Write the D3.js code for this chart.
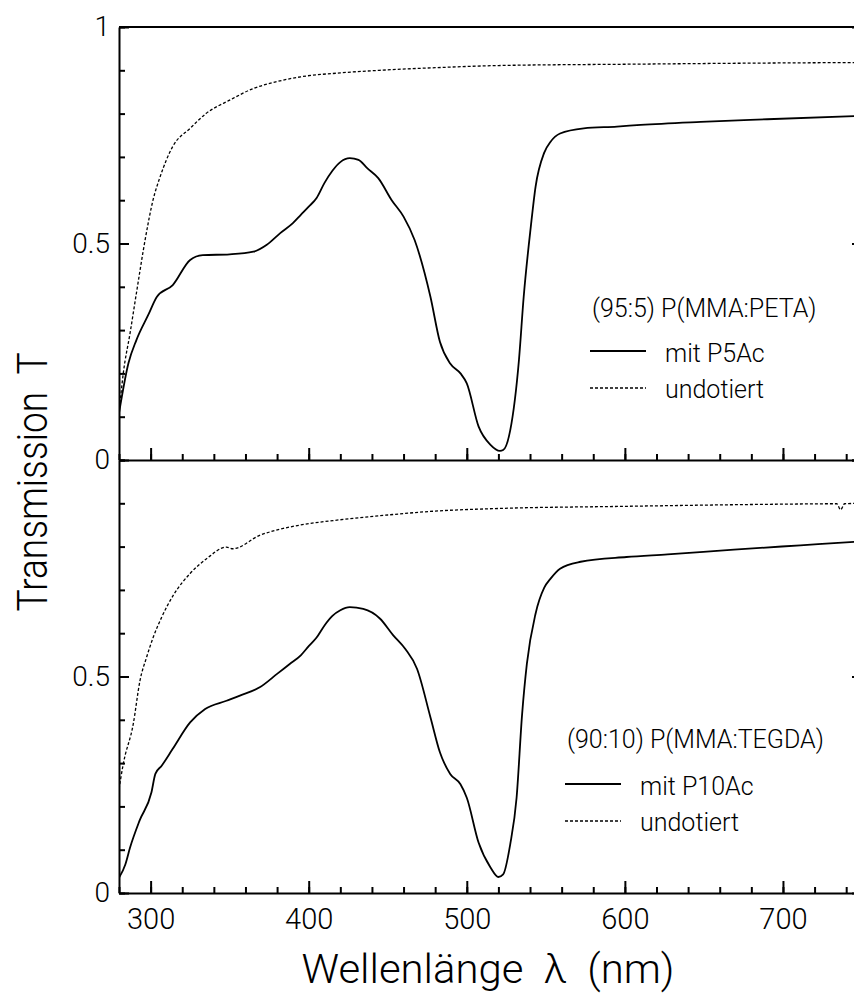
<!DOCTYPE html>
<html>
<head>
<meta charset="utf-8">
<script src="https://cdn.jsdelivr.net/npm/d3@7"></script>
<style>
  body { margin: 0; background: #fff; }
  svg { display: block; font-family: Roboto, "Liberation Sans", sans-serif; font-weight: 300; }
  .axis path, .axis line { stroke: #000; stroke-width: 2; }
  .axis text { fill: #000; font-size: 28px; font-family: Roboto, "Liberation Sans", sans-serif; font-weight: 300; }
</style>
</head>
<body>
<div id="chart"></div>
<script>
// wavelengths (nm) and transmission values
const topSolidNm = [280, 286, 291, 298.5, 304, 314, 325, 333, 350, 365, 373.5, 382, 390, 395, 400, 405, 410, 415, 420, 426, 431.5, 437, 444, 452.5, 460, 467, 477, 483, 489.5, 496, 500, 507.5, 515, 521, 523, 527.5, 533, 536, 540.5, 543.5, 549, 553, 559, 574, 595, 610, 648, 690, 750];
const topSolidT = [0.108, 0.224, 0.277, 0.335, 0.377, 0.404, 0.462, 0.473, 0.475, 0.481, 0.497, 0.524, 0.547, 0.566, 0.585, 0.605, 0.640, 0.668, 0.688, 0.697, 0.693, 0.674, 0.651, 0.600, 0.562, 0.508, 0.377, 0.273, 0.223, 0.200, 0.177, 0.077, 0.035, 0.021, 0.023, 0.069, 0.231, 0.377, 0.539, 0.631, 0.710, 0.735, 0.754, 0.766, 0.770, 0.774, 0.781, 0.787, 0.795];

const topDashNm = [280, 282.7, 287, 291, 296.5, 301.5, 306, 314, 325, 335, 350, 365, 380, 395, 420, 450, 480, 520, 600, 700, 750];
const topDashT = [0.108, 0.200, 0.293, 0.385, 0.508, 0.600, 0.654, 0.724, 0.766, 0.800, 0.831, 0.858, 0.874, 0.885, 0.894, 0.901, 0.906, 0.911, 0.914, 0.917, 0.918];

const botSolidNm = [280, 284, 287, 293, 300.5, 303, 307, 314, 325, 334.5, 348, 356.5, 369, 380, 388, 395, 400, 405, 410, 415, 420, 426, 434.5, 445, 453.5, 461, 468.5, 477, 483, 489.5, 496, 500, 507.5, 515, 520, 523, 527.5, 531.5, 535, 538, 543.5, 549, 553, 559, 572, 601, 627, 669, 711, 745, 750];
const botSolidT = [0.035, 0.066, 0.105, 0.167, 0.232, 0.275, 0.294, 0.333, 0.394, 0.425, 0.444, 0.456, 0.475, 0.506, 0.529, 0.549, 0.570, 0.590, 0.618, 0.640, 0.653, 0.660, 0.656, 0.634, 0.595, 0.564, 0.518, 0.406, 0.325, 0.275, 0.251, 0.220, 0.116, 0.059, 0.037, 0.043, 0.113, 0.220, 0.413, 0.529, 0.645, 0.705, 0.726, 0.749, 0.765, 0.776, 0.782, 0.793, 0.803, 0.811, 0.812];

const botDashNm = [280, 282.7, 289, 293.3, 297.5, 301.7, 307, 314.4, 325, 335.4, 348, 352, 369, 384, 395, 420, 450, 480, 520, 600, 700, 734, 736.5, 739, 750];
const botDashT = [0.240, 0.298, 0.390, 0.491, 0.545, 0.591, 0.637, 0.688, 0.738, 0.772, 0.799, 0.795, 0.826, 0.842, 0.850, 0.862, 0.873, 0.882, 0.888, 0.893, 0.898, 0.899, 0.885, 0.899, 0.900];

const xDomain = [280, 750];
const xMajorTicks = [300, 400, 500, 600, 700];
const xMinorTicks = d3.range(280, 751, 20);
const yMinorTicks = [0, 0.1, 0.2, 0.3, 0.4, 0.5, 0.6, 0.7, 0.8, 0.9, 1];

const panels = [
    { title: "(95:5) P(MMA:PETA)", dopedLabel: "mit P5Ac", solidNm: topSolidNm, solidT: topSolidT, dashNm: topDashNm, dashT: topDashT, yLabels: [0, 0.5, 1] },
    { title: "(90:10) P(MMA:TEGDA)", dopedLabel: "mit P10Ac", solidNm: botSolidNm, solidT: botSolidT, dashNm: botDashNm, dashT: botDashT, yLabels: [0, 0.5] }
];

const sizes = {
    width: 854,
    height: 999,
    left: 119,
    right: 862,
    top: 27,
    panelHeight: 433
};

// legend placement per panel (relative to panel top)
const legendPos = [
    { titleX: 592, titleY: 290, lineX: 590, textX: 665, row1: 324, row2: 361 },
    { titleX: 567, titleY: 288, lineX: 565, textX: 640, row1: 324, row2: 361 }
];

const svg = d3.select("#chart").append("svg")
    .attr("width", sizes.width)
    .attr("height", sizes.height);

const x = d3.scaleLinear().domain(xDomain).range([sizes.left, sizes.right]);

svg.append("defs").append("clipPath")
    .attr("id", "plotClip")
    .append("rect")
    .attr("x", sizes.left)
    .attr("y", sizes.top)
    .attr("width", sizes.right - sizes.left)
    .attr("height", sizes.panelHeight * 2);

panels.forEach(function (p, i) {
    const y0 = sizes.top + i * sizes.panelHeight;
    const y = d3.scaleLinear().domain([0, 1]).range([y0 + sizes.panelHeight, y0]);

    const line = d3.line()
        .x(d => x(d[0]))
        .y(d => y(d[1]))
        .curve(d3.curveMonotoneX);

    const g = svg.append("g").attr("clip-path", "url(#plotClip)");

    g.append("path")
        .datum(p.dashNm.map((v, k) => [v, p.dashT[k]]))
        .attr("fill", "none")
        .attr("stroke", "#000")
        .attr("stroke-width", 1.3)
        .attr("stroke-dasharray", "3,2")
        .attr("d", line);

    g.append("path")
        .datum(p.solidNm.map((v, k) => [v, p.solidT[k]]))
        .attr("fill", "none")
        .attr("stroke", "#000")
        .attr("stroke-width", 1.8)
        .attr("d", line);

    // left axis, ticks pointing inward
    svg.append("g").attr("class", "axis")
        .attr("transform", "translate(" + sizes.left + ",0)")
        .call(d3.axisLeft(y).tickValues(yMinorTicks).tickSize(-6).tickSizeOuter(0).tickFormat(""));
    svg.append("g").attr("class", "axis")
        .attr("transform", "translate(" + sizes.left + ",0)")
        .call(d3.axisLeft(y).tickValues(p.yLabels).tickSize(-10).tickSizeOuter(0).tickPadding(9)
            .tickFormat(d => d === 0 ? "0" : d === 1 ? "1" : "0.5"))
        .call(a => a.select(".domain").remove());

    // right axis
    svg.append("g").attr("class", "axis")
        .attr("transform", "translate(" + sizes.right + ",0)")
        .call(d3.axisLeft(y).tickValues([0, 0.5, 1]).tickSize(10).tickSizeOuter(0).tickFormat(""));

    // bottom axis of the panel, ticks pointing up
    const xAxisY = y(0);
    svg.append("g").attr("class", "axis")
        .attr("transform", "translate(0," + xAxisY + ")")
        .call(d3.axisBottom(x).tickValues(xMinorTicks).tickSize(-6).tickSizeOuter(0).tickFormat(""));
    const major = svg.append("g").attr("class", "axis")
        .attr("transform", "translate(0," + xAxisY + ")")
        .call(d3.axisBottom(x).tickValues(xMajorTicks).tickSize(-12).tickSizeOuter(0).tickPadding(15));
    major.select(".domain").remove();
    if (i === 0) major.selectAll("text").remove();
    else major.selectAll("text").style("font-size", "29px");

    // top frame
    if (i === 0) {
        svg.append("line")
            .attr("x1", x(xDomain[0])).attr("x2", x(xDomain[1]))
            .attr("y1", y(1)).attr("y2", y(1))
            .attr("stroke", "#000").attr("stroke-width", 2);
    }

    // legend
    const lp = legendPos[i];
    const leg = svg.append("g").attr("transform", "translate(0," + y0 + ")")
        .style("font-size", "25px");
    leg.append("text").attr("x", lp.titleX).attr("y", lp.titleY).text(p.title);
    leg.append("line").attr("x1", lp.lineX).attr("x2", lp.lineX + 56)
        .attr("y1", lp.row1).attr("y2", lp.row1)
        .attr("stroke", "#000").attr("stroke-width", 1.8);
    leg.append("text").attr("x", lp.textX).attr("y", lp.row1 + 11).text(p.dopedLabel);
    leg.append("line").attr("x1", lp.lineX).attr("x2", lp.lineX + 56)
        .attr("y1", lp.row2).attr("y2", lp.row2)
        .attr("stroke", "#000").attr("stroke-width", 1.3)
        .attr("stroke-dasharray", "3,2");
    leg.append("text").attr("x", lp.textX).attr("y", lp.row2 + 10).text("undotiert");
});

// axis titles
svg.append("text")
    .attr("x", 488).attr("y", 983)
    .attr("text-anchor", "middle")
    .attr("textLength", 373)
    .attr("lengthAdjust", "spacingAndGlyphs")
    .style("font-size", "40px")
    .style("white-space", "pre")
    .text("Wellenlänge  λ  (nm)");

svg.append("text")
    .attr("transform", "translate(47,482) rotate(-90)")
    .attr("text-anchor", "middle")
    .attr("textLength", 259)
    .attr("lengthAdjust", "spacingAndGlyphs")
    .style("font-size", "42px")
    .style("white-space", "pre")
    .text("Transmission  T");
</script>
</body>
</html>
